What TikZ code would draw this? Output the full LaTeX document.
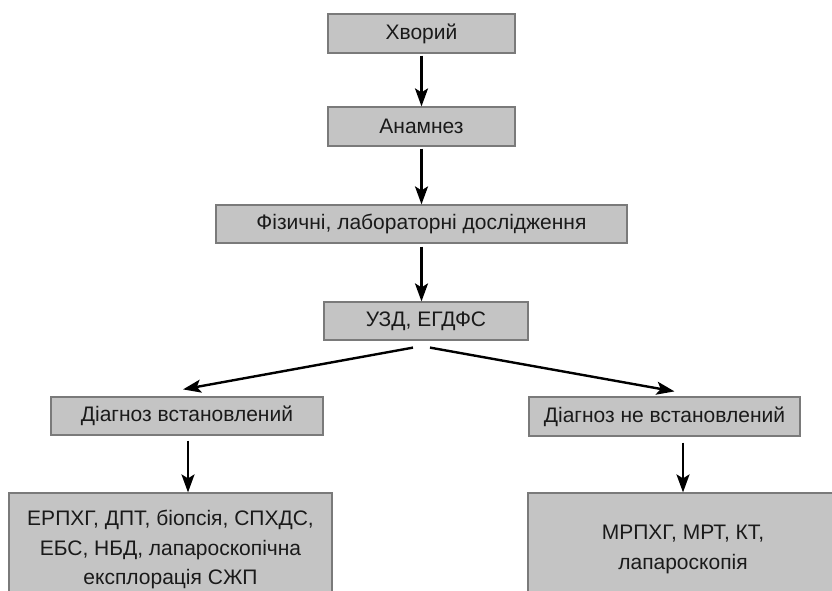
\documentclass[tikz,border=0pt]{standalone}
\usepackage{fontspec}
\setmainfont{Liberation Sans}
\usetikzlibrary{
    arrows.meta,
    calc
}

\definecolor{boxgray}{HTML}{C4C4C4}
\definecolor{edgegray}{HTML}{7A7A7A}
\definecolor{textgray}{HTML}{1A1A1A}

\begin{document}
\begin{tikzpicture}[x=1pt,y=-1pt,
    box/.style={draw=edgegray,fill=boxgray,line width=1.2pt,inner sep=0pt,
        text=textgray,align=center,font=\fontsize{21}{29.5}\selectfont},
    arr/.style={-{Stealth[length=18pt,width=13pt,inset=4pt]},line width=2.4pt,black}]

\clip (0,0) rectangle (832,590);
\fill[white] (0,0) rectangle (832,590);

% Main chain
\node[box,minimum width=187pt,minimum height=39pt] (hvoryi) at (421.5,33.5) {Хворий};
\node[box,minimum width=187pt,minimum height=39pt] (anamnez) at (421.5,126.5) {Анамнез};
\node[box,minimum width=411pt,minimum height=38pt] (fizlab) at (421.5,224) {Фізичні, лабораторні дослідження};
\node[box,minimum width=204pt,minimum height=38pt] (uzd) at (426,321) {УЗД, ЕГДФС};

% Diagnosis
\node[box,minimum width=272pt,minimum height=38pt] (dvst) at (187,416) {Діагноз встановлений};
\node[box,minimum width=271pt,minimum height=39pt] (dnvst) at (664.5,416.5) {Діагноз не встановлений};

% Methods
\node[box,minimum width=323pt,minimum height=113pt] (diagl) at (170.5,549.5)
    {ЕРПХГ, ДПТ, біопсія, СПХДС,\\ЕБС, НБД, лапароскопічна\\експлорація СЖП};
\node[box,minimum width=310pt,minimum height=113pt] (diagr) at (683,549.5)
    {МРПХГ, МРТ, КТ,\\лапароскопія};

% Arrows
\draw[arr] ($(hvoryi.south)+(0,2)$) -- (anamnez.north);
\draw[arr] ($(anamnez.south)+(0,2)$) -- (fizlab.north);
\draw[arr] ($(fizlab.south)+(0,3)$) -- (fizlab.south |- uzd.north);
\draw[arr] ($(uzd.south)+(-13,7)$) -- ($(dvst.north)+(-4,-7)$);
\draw[arr] ($(uzd.south)+(4,7)$) -- ($(dnvst.north)+(10,-5)$);
\draw[arr] ($(dvst.south)+(1,5)$) -- ($(dvst.south |- diagl.north)+(1,0)$);
\draw[arr] ($(dnvst.south -| diagr.north)+(0,6)$) -- (diagr.north);

\end{tikzpicture}
\end{document}
